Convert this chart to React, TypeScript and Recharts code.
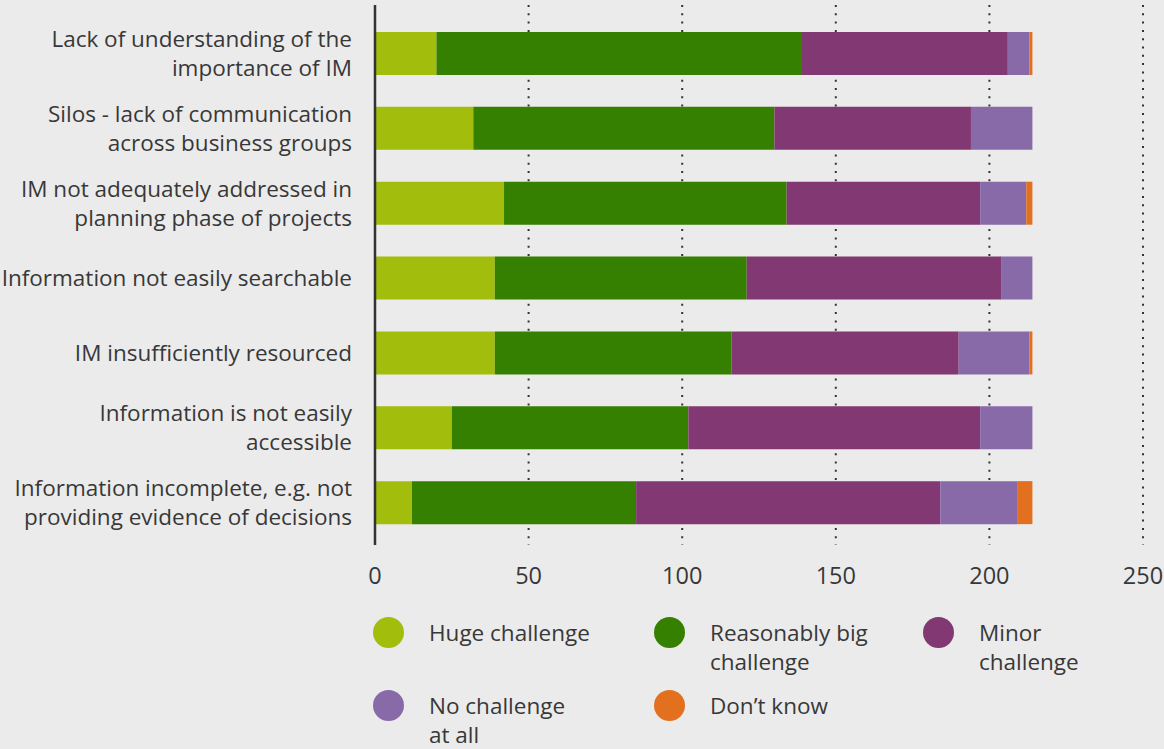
import { BarChart, Bar, XAxis, YAxis, CartesianGrid } from 'recharts';

// Survey categories, one bar each (line breaks are where the label wraps)
const categories = [
  "Lack of understanding of the\nimportance of IM",
  "Silos - lack of communication\nacross business groups",
  "IM not adequately addressed in\nplanning phase of projects",
  "Information not easily searchable",
  "IM insufficiently resourced",
  "Information is not easily\naccessible",
  "Information incomplete, e.g. not\nproviding evidence of decisions",
];

const hugeChallenge = [20, 32, 42, 39, 39, 25, 12];
const reasonablyBig = [119, 98, 92, 82, 77, 77, 73];
const minorChallenge = [67, 64, 63, 83, 74, 95, 99];
const noChallenge = [7, 20, 15, 10, 23, 17, 25];
const dontKnow = [1, 0, 2, 0, 1, 0, 5];

const xTicks = [0, 50, 100, 150, 200, 250];

const series = [
  { key: "huge", label: "Huge challenge", color: "#a3bd0c", values: hugeChallenge },
  { key: "big", label: "Reasonably big\nchallenge", color: "#358000", values: reasonablyBig },
  { key: "minor", label: "Minor\nchallenge", color: "#823872", values: minorChallenge },
  { key: "none", label: "No challenge\nat all", color: "#896aa8", values: noChallenge },
  { key: "dk", label: "Don\u2019t know", color: "#e3701e", values: dontKnow },
];

const data = categories.map((name, i) => {
  const row: Record<string, string | number> = { name };
  series.forEach((s) => {
    row[s.key] = s.values[i];
  });
  return row;
});

const FONT = "'Open Sans', sans-serif";
const TEXT = "#383838";

const CategoryTick = ({ x, y, payload }: any) => {
  const lines = String(payload.value).split("\n");
  const lineHeight = 29;
  const first = -((lines.length - 1) * lineHeight) / 2 + 8;
  return (
    <text x={x} y={y} textAnchor="end" fill={TEXT} fontSize={22.5} fontFamily={FONT}>
      {lines.map((line, i) => (
        <tspan key={i} x={x} dy={i === 0 ? first : lineHeight}>
          {line}
        </tspan>
      ))}
    </text>
  );
};

const ChartLegend = () => (
  <div
    style={{
      display: "grid",
      gridTemplateColumns: "281px 269px 220px",
      gridAutoRows: "73px",
      paddingLeft: 373,
      paddingTop: 17,
      fontFamily: FONT,
      fontSize: 22.5,
      color: TEXT,
    }}
  >
    {series.map((s) => (
      <div key={s.key} style={{ display: "flex", alignItems: "flex-start" }}>
        <div
          style={{
            width: 31,
            height: 31,
            borderRadius: "50%",
            background: s.color,
            flexShrink: 0,
            marginRight: 25,
          }}
        />
        <div style={{ whiteSpace: "pre-line", lineHeight: "29px", marginTop: 1 }}>{s.label}</div>
      </div>
    ))}
  </div>
);

export default function App() {
  return (
    <div
      style={{
        position: "absolute",
        left: 0,
        top: 0,
        width: 1164,
        height: 749,
        background: "#ebebeb",
        overflow: "hidden",
      }}
    >
      <BarChart
        width={1164}
        height={600}
        data={data}
        layout="vertical"
        margin={{ top: 5, right: 21, bottom: 0, left: 0 }}
        barSize={43}
      >
        <CartesianGrid
          horizontal={false}
          stroke="#333"
          strokeWidth={2}
          strokeDasharray="2 6.3"
        />
        <XAxis
          type="number"
          domain={[0, 250]}
          ticks={xTicks}
          axisLine={false}
          tickLine={false}
          tickSize={0}
          tickMargin={22}
          height={55}
          tick={{ fontSize: 23.5, fill: TEXT, fontFamily: FONT }}
        />
        <YAxis
          type="category"
          dataKey="name"
          width={375}
          padding={{ top: 11, bottom: 5 }}
          axisLine={{ stroke: "#333", strokeWidth: 2.5 }}
          tickLine={false}
          tickSize={0}
          tickMargin={23}
          interval={0}
          tick={<CategoryTick />}
        />
        {series.map((s) => (
          <Bar key={s.key} dataKey={s.key} stackId="a" fill={s.color} isAnimationActive={false} />
        ))}
      </BarChart>
      <ChartLegend />
    </div>
  );
}
